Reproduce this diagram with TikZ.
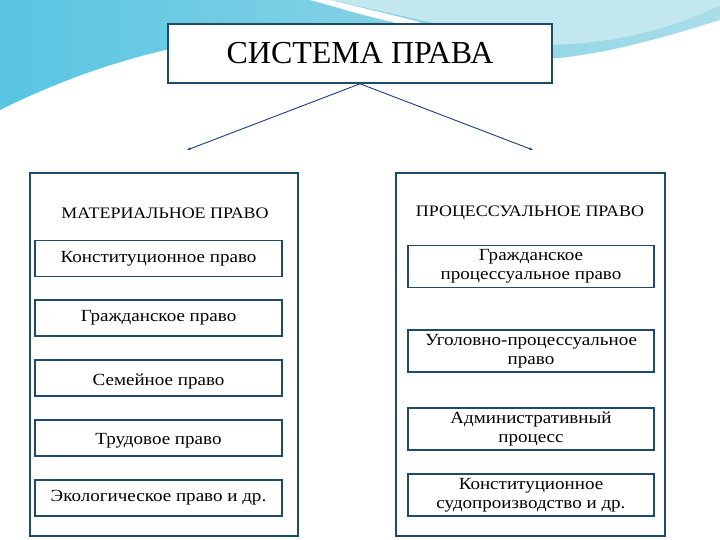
\documentclass[tikz,border=0pt]{standalone}
\usepackage{fontspec}
\setmainfont{Liberation Serif}
\newfontfamily\wide[FakeStretch=1.12]{Liberation Serif}
\usetikzlibrary{arrows.meta}
\begin{document}
\begin{tikzpicture}[x=1pt,y=-1pt,
  bx/.style={draw=frame,line width=1.6pt,fill=white,inner sep=0pt},
  sub/.style={draw=frame,line width=1.4pt,fill=white,inner sep=0pt,align=center,font=\wide\fontsize{17}{19}\selectfont},
  arr/.style={draw=frame!80!blue,line width=0.9pt,-{Stealth[length=4pt,width=3pt]}}]
\definecolor{frame}{HTML}{1F4A68}
\definecolor{sky}{HTML}{6FB6DA}
\definecolor{lsky}{HTML}{A9DDE8}
\useasboundingbox (0,0) rectangle (720,540);
\fill[white] (0,0) rectangle (720,540);
\shade[left color=sky!80!cyan,right color=lsky] (0,0) -- (720,0) -- (720,20) .. controls (640,45) and (580,60) .. (520,60) -- (520,40) .. controls (400,20) and (200,10) .. (0,110) -- cycle;
\fill[lsky!70!white] (330,0) .. controls (400,15) and (460,30) .. (540,45) .. controls (620,45) and (680,25) .. (720,5) -- (720,0) -- cycle;
\fill[white] (310,0) .. controls (340,8) and (370,18) .. (420,28) -- (420,22) .. controls (380,12) and (350,5) .. (330,0) -- cycle;
\node[bx,minimum width=384pt,minimum height=59pt,font=\fontsize{32}{34}\selectfont] (t) at (360,53.5) {СИСТЕМА ПРАВА};
\coordinate (la) at (187,150);
\coordinate (ra) at (533,150);
\draw[arr] (t.south) -- (la);
\draw[arr] (t.south) -- (ra);
\node[bx,minimum width=268pt,minimum height=363pt] (L) at (164,354.5) {};
\node[bx,minimum width=269pt,minimum height=363pt] (R) at (530.5,354.5) {};
\node[font=\wide\fontsize{16}{18}\selectfont] (lh) at (165,213) {МАТЕРИАЛЬНОЕ ПРАВО};
\node[font=\wide\fontsize{16}{18}\selectfont] (rh) at (530,213) {ПРОЦЕССУАЛЬНОЕ ПРАВО};
\tikzset{ls/.style={sub,minimum width=247pt,minimum height=36pt}}
\node[ls] (l1) at (158.5,258.5) {Конституционное право};
\node[ls] (l2) at (158.5,318) {Гражданское право};
\node[ls] (l3) at (158.5,378) {};
\node[font=\wide\fontsize{17}{19}\selectfont] at (158.5,381) {Семейное право};
\node[ls] (l4) at (158.5,438) {};
\node[font=\wide\fontsize{17}{19}\selectfont] at (158.5,441) {Трудовое право};
\node[ls] (l5) at (158.5,498) {Экологическое право и др.};
\tikzset{rs/.style={sub,minimum width=246pt,minimum height=42pt}}
\node[rs] (r1) at (531,266.5) {Гражданское\\процессуальное право};
\node[rs] (r2) at (531,351) {Уголовно-процессуальное\\право};
\node[rs] (r3) at (531,429) {Административный\\процесс};
\node[rs] (r4) at (531,495) {Конституционное\\судопроизводство и др.};
\end{tikzpicture}
\end{document}
